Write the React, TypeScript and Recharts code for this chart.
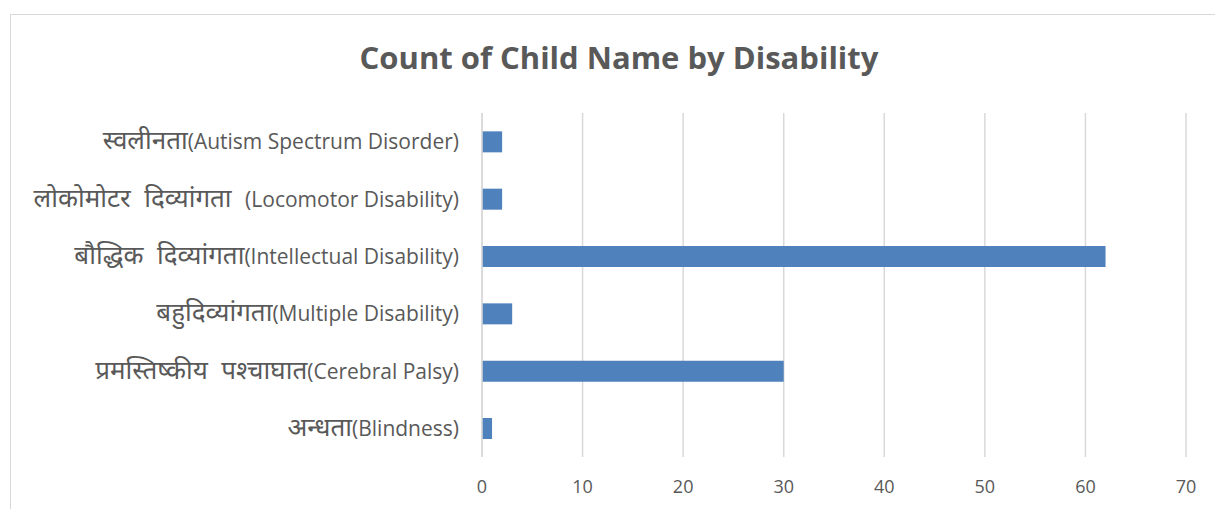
import { BarChart, Bar, XAxis, YAxis, CartesianGrid } from 'recharts';

const categories = [
  'स्वलीनता(Autism Spectrum Disorder)',
  'लोकोमोटर  दिव्यांगता  (Locomotor Disability)',
  'बौद्धिक  दिव्यांगता(Intellectual Disability)',
  'बहुदिव्यांगता(Multiple Disability)',
  'प्रमस्तिष्कीय  पश्चाघात(Cerebral Palsy)',
  'अन्धता(Blindness)',
];
const counts = [2, 2, 62, 3, 30, 1];
const xTicks = [0, 10, 20, 30, 40, 50, 60, 70];

const data = categories.map((name, i) => ({ name, count: counts[i] }));

const FONT = '"Open Sans", "Noto Sans", sans-serif';

// Devanagari part drawn a bit larger, like the original's Hindi font
function CategoryTick(props: any) {
  const { x, y, payload } = props;
  const label: string = payload.value;
  const cut = label.indexOf('(');
  const hindi = label.slice(0, cut);
  const latin = label.slice(cut);
  return (
    <text x={x} y={y + 2} dy="0.35em" textAnchor="end" fill="#595959" fontFamily={FONT} xmlSpace="preserve" style={{ whiteSpace: 'pre' }}>
      <tspan fontSize={26}>{hindi}</tspan>
      <tspan fontSize={21}>{latin}</tspan>
    </text>
  );
}

export default function App() {
  return (
    <div style={{ position: 'absolute', left: 0, top: 0, width: 1215, height: 509, background: '#fff', overflow: 'hidden', fontFamily: FONT }}>
      <div style={{ position: 'absolute', left: 10, top: 14, width: 1300, height: 600, border: '1px solid #d9d9d9' }} />
      <div style={{ position: 'absolute', left: 0, top: 36, width: 1238, textAlign: 'center', fontSize: 31, fontWeight: 700, color: '#595959' }}>
        Count of Child Name by Disability
      </div>
      <div style={{ position: 'absolute', left: 0, top: 0 }}>
        <BarChart
          width={1215}
          height={509}
          data={data}
          layout="vertical"
          margin={{ top: 113, right: 29, bottom: 22, left: 0 }}
          barCategoryGap="32%"
        >
          <CartesianGrid horizontal={false} stroke="#d9d9d9" strokeWidth={1.5} />
          <XAxis
            type="number"
            domain={[0, 70]}
            ticks={xTicks}
            axisLine={false}
            tickLine={false}
            tickMargin={17}
            tick={{ fill: '#595959', fontSize: 18, fontFamily: FONT }}
          />
          <YAxis
            type="category"
            dataKey="name"
            width={482}
            interval={0}
            axisLine={{ stroke: '#d9d9d9', strokeWidth: 1.5 }}
            tickLine={false}
            tickMargin={17}
            tick={<CategoryTick />}
          />
          <Bar dataKey="count" fill="#4f81bd" isAnimationActive={false} />
        </BarChart>
      </div>
    </div>
  );
}
